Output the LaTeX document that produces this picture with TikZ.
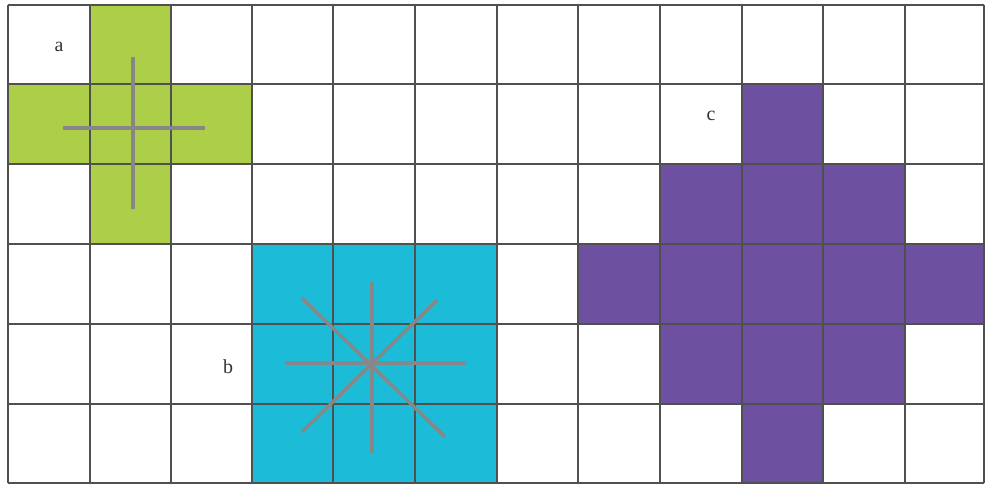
\documentclass[tikz,border=0pt]{standalone}
\usepackage{fontspec}
\setmainfont{Liberation Serif}
\definecolor{cgreen}{RGB}{172,206,72}
\definecolor{cblue}{RGB}{28,188,216}
\definecolor{cpurple}{RGB}{110,80,160}
\definecolor{cgrid}{RGB}{80,80,80}
\definecolor{cray}{RGB}{135,135,135}
\tikzset{
  gridline/.style={draw=cgrid, line width=1.3pt},
  ray/.style={draw=cray, line width=3pt},
  lbl/.style={font=\fontsize{17}{20}\selectfont, text=black!80, inner sep=0pt}
}
\begin{document}
\begin{tikzpicture}[x=0.03cm, y=-0.03cm]
\useasboundingbox (0,0) rectangle (985,485);
\fill[white] (0,0) rectangle (985,485);
% green cross
\fill[cgreen] (90,5) rectangle (171,244);
\fill[cgreen] (8,84) rectangle (252,164);
% blue square
\fill[cblue] (252,244) rectangle (497,483);
% purple diamond
\fill[cpurple] (742,84) rectangle (823,483);
\fill[cpurple] (660,164) rectangle (905,404);
\fill[cpurple] (578,244) rectangle (985,324);
% grid
\foreach \x in {8,90,171,252,333,415,497,578,660,742,823,905,984}
  \draw[gridline] (\x,5) -- (\x,483);
\foreach \y in {5,84,164,244,324,404,483}
  \draw[gridline] (8,\y) -- (984,\y);
% green rays
\coordinate (ga) at (133,57);
\coordinate (gb) at (133,209);
\coordinate (gc) at (63,128);
\coordinate (gd) at (205,128);
\draw[ray] (ga) -- (gb);
\draw[ray] (gc) -- (gd);
% blue star
\coordinate (bn) at (372,282);
\coordinate (bs) at (372,453);
\coordinate (bw) at (285,363);
\coordinate (be) at (466,363);
\coordinate (bnw) at (302,298);
\coordinate (bse) at (445,437);
\coordinate (bne) at (437,300);
\coordinate (bsw) at (302,432);
\draw[ray] (bn) -- (bs);
\draw[ray] (bw) -- (be);
\draw[ray] (bnw) -- (bse);
\draw[ray] (bne) -- (bsw);
% labels
\node[lbl] (la) at (59,47) {a};
\node[lbl] (lb) at (228,367) {b};
\node[lbl] (lc) at (711,116) {c};
\end{tikzpicture}
\end{document}
